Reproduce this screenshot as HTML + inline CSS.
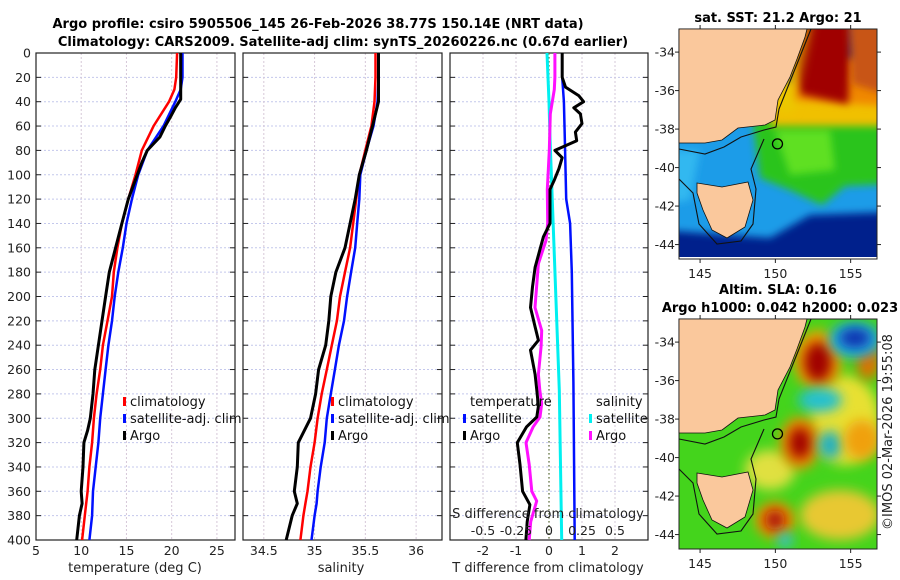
<!DOCTYPE html>
<html><head><meta charset="utf-8"><style>
html,body{margin:0;padding:0;background:#fff;}
svg{display:block;font-family:"DejaVu Sans","Liberation Sans",sans-serif;}
</style></head><body>
<svg id="fig" width="900" height="580" viewBox="0 0 900 580" xmlns="http://www.w3.org/2000/svg">
<defs>
<filter id="blur1" x="-20%" y="-20%" width="140%" height="140%"><feGaussianBlur stdDeviation="4"/></filter>
<filter id="blur2" x="-50%" y="-50%" width="200%" height="200%"><feGaussianBlur stdDeviation="6"/></filter>
<clipPath id="clipM1"><rect x="679" y="29" width="198" height="230"/></clipPath>
<clipPath id="clipM2"><rect x="679" y="319" width="198" height="230"/></clipPath>
</defs>
<text x="318" y="28" text-anchor="middle" font-size="13" font-weight="bold">Argo profile: csiro 5905506_145 26-Feb-2026 38.77S 150.14E (NRT data)</text>
<text x="343" y="46" text-anchor="middle" font-size="13" font-weight="bold">Climatology: CARS2009. Satellite-adj clim: synTS_20260226.nc (0.67d earlier)</text>
<g id="plots"></g>
<g id="maps"></g>
<text transform="translate(892,432) rotate(-90)" text-anchor="middle" font-size="13" fill="#222">©IMOS 02-Mar-2026 19:55:08</text>
</svg>
<script>
// ---- data ----
const depthTicks = [0,20,40,60,80,100,120,140,160,180,200,220,240,260,280,300,320,340,360,380,400];
const tempTicks = [5,10,15,20,25];
const salTicks = [34.5,35,35.5,36];
const salTickLabels = ["34.5","35","35.5","36"];
const tdiffTicks = [-2,-1,0,1,2];
const sdiffTicks = [-0.5,-0.25,0,0.25,0.5];
const sdiffTickLabels = ["-0.5","-0.25","0","0.25","0.5"];

const tArgoDepth = [0,20,38,45,52,60,69,80,90,100,120,140,160,180,200,220,240,260,280,300,310,320,340,360,370,380,400];
const tArgo = [21.0,21.0,21.0,20.4,19.9,19.3,18.7,17.3,16.7,16.2,15.2,14.5,13.8,13.1,12.7,12.3,11.9,11.5,11.3,11.0,10.7,10.3,10.2,10.0,10.1,9.8,9.5];
const tClimDepth = [0,20,30,40,60,80,100,120,140,160,180,200,220,240,260,280,300,320,340,360,380,400];
const tClim = [20.6,20.5,20.3,19.7,18.0,16.7,16.0,15.2,14.5,14.0,13.6,13.4,12.9,12.4,12.1,11.7,11.4,11.2,10.9,10.7,10.4,10.1];
const tSat = [21.2,21.2,21.0,20.4,19.1,17.3,16.3,15.6,15.0,14.6,14.1,13.7,13.4,13.0,12.7,12.4,12.1,11.9,11.6,11.3,11.2,10.9];

const sDepth = [0,20,40,60,80,100,120,140,160,180,200,220,240,260,280,300,320,340,360,370,380,400];
const sArgo = [35.63,35.63,35.63,35.57,35.51,35.44,35.40,35.35,35.30,35.21,35.16,35.14,35.11,35.04,35.01,34.96,34.84,34.83,34.80,34.83,34.78,34.72];
const sClim = [35.60,35.60,35.59,35.56,35.50,35.44,35.41,35.38,35.35,35.30,35.25,35.22,35.17,35.12,35.07,35.03,35.00,34.96,34.93,34.91,34.89,34.86];
const sSat = [35.63,35.63,35.62,35.58,35.51,35.45,35.44,35.42,35.40,35.36,35.32,35.29,35.24,35.20,35.16,35.12,35.10,35.06,35.03,35.02,35.00,34.97];

const tdArgoDepth = [0,20,28,35,40,45,50,58,65,72,80,86,95,105,112,140,151,176,192,209,225,236,244,264,277,290,299,307,320,338,360,371,385,400];
const tdArgo = [0.4,0.4,0.5,0.9,1.05,0.75,0.95,1.0,0.8,0.84,0.18,0.4,0.3,0.15,0.03,0.03,-0.17,-0.42,-0.5,-0.56,-0.42,-0.32,-0.56,-0.42,-0.37,-0.32,-0.37,-0.68,-0.96,-0.88,-0.80,-0.58,-0.66,-0.70];
const tdSatDepth = [0,20,40,70,120,140,180,270,400];
const tdSat = [0.4,0.4,0.45,0.48,0.52,0.64,0.69,0.74,0.78];
const sdArgoDepth = [0,20,30,50,80,112,140,154,173,209,228,241,264,277,288,299,307,320,338,360,368,385,400];
const sdArgo = [0.045,0.045,0.04,0.01,0.002,-0.013,-0.01,-0.023,-0.08,-0.106,-0.055,-0.06,-0.08,-0.07,-0.055,-0.068,-0.12,-0.174,-0.15,-0.13,-0.093,-0.139,-0.15];
const sdSatDepth = [0,40,72,277,400];
const sdSat = [-0.015,0.0,0.008,0.078,0.096];

const lonTicks = [145,150,155];
const latTicks = [-34,-36,-38,-40,-42,-44];
const argoLon = 150.14, argoLat = -38.77;

// ---- helpers ----
const NS = "http://www.w3.org/2000/svg";
function mk(tag, attrs, parent){ const e=document.createElementNS(NS,tag); for(const k in attrs) e.setAttribute(k,attrs[k]); parent.appendChild(e); return e; }
const plots = document.getElementById('plots');
const Y0=53, Y1=540;
const yD = d => Y0 + (d/400)*(Y1-Y0);

function panel(name, x0, x1, vmin, vmax, ticks, labels){
  const g = mk('g',{},plots);
  
  
  const sx = v => x0 + (v-vmin)/(vmax-vmin)*(x1-x0);
  for(const d of depthTicks){
    if(d>0 && d<400){ const l=mk('line',{x1:x0,x2:x1,y1:yD(d),y2:yD(d),stroke:'#c4c8ec','stroke-width':1,'stroke-dasharray':'2,2'},g);
        }
    mk('line',{x1:x0,x2:x0+5,y1:yD(d),y2:yD(d),stroke:'#222'},g);
    mk('line',{x1:x1-5,x2:x1,y1:yD(d),y2:yD(d),stroke:'#222'},g);
  }
  ticks.forEach((t,i)=>{
    const x=sx(t);
    if(x>x0+1 && x<x1-1){ const l=mk('line',{x1:x,x2:x,y1:Y0,y2:Y1,stroke:'#d6c8d8','stroke-width':1,'stroke-dasharray':'2,2'},g);
        }
    const tx=mk('text',{x:x,y:Y1+15,'text-anchor':'middle','font-size':12.5,fill:'#222'},g);
    tx.textContent = labels ? labels[i] : String(t);
    
    
  });
  const fr=mk('rect',{x:x0,y:Y0,width:x1-x0,height:Y1-Y0,fill:'none',stroke:'#222','stroke-width':1.2},g);
  
  
  return {g, sx};
}
function series(p, vals, depths, color, w, name){
  const pts = vals.map((v,i)=>p.sx(v).toFixed(1)+','+yD(depths[i]).toFixed(1)).join(' ');
  const pl = mk('polyline',{points:pts,fill:'none',stroke:color,'stroke-width':w,'stroke-linejoin':'round'},p.g);
  
  
}
function legend(g, x, y, items){
  items.forEach((it,i)=>{
    const yy = y + i*17;
    if(it.color){ mk('rect',{x:x,y:yy-9,width:3,height:9,fill:it.color},g); }
    const t=mk('text',{x:x+7,y:yy,'font-size':13,fill:'#111'},g);
    t.textContent=it.label;
    
    
  });
}

for(const d of depthTicks){
  const t=mk('text',{x:31,y:yD(d)+4.5,'text-anchor':'end','font-size':12.5,fill:'#222'},plots);
  t.textContent=String(d);
  
  
}

const p1 = panel('temperature-panel',36,235,5,27,tempTicks,null);
series(p1,tClim,tClimDepth,'#ff0000',2.5,'temp-climatology-line');
series(p1,tSat,tClimDepth,'#0010ff',2.5,'temp-satellite-line');
series(p1,tArgo,tArgoDepth,'#000',3,'temp-argo-line');
legend(p1.g,123,406,[{color:'#ff0000',label:'climatology'},{color:'#0010ff',label:'satellite-adj. clim'},{color:'#000',label:'Argo'}]);
let xl=mk('text',{x:135,y:572,'text-anchor':'middle','font-size':13,fill:'#222'},plots);
xl.textContent='temperature (deg C)';



const p2 = panel('salinity-panel',243,442,34.295,36.255,salTicks,salTickLabels);
series(p2,sClim,sDepth,'#ff0000',2.5,'sal-climatology-line');
series(p2,sSat,sDepth,'#0010ff',2.5,'sal-satellite-line');
series(p2,sArgo,sDepth,'#000',3,'sal-argo-line');
legend(p2.g,331,406,[{color:'#ff0000',label:'climatology'},{color:'#0010ff',label:'satellite-adj. clim'},{color:'#000',label:'Argo'}]);
xl=mk('text',{x:341,y:572,'text-anchor':'middle','font-size':13,fill:'#222'},plots);
xl.textContent='salinity';



const p3 = panel('difference-panel',450,648,-3,3,tdiffTicks,null);
const p3s = {g:p3.g, sx: v => p3.sx(v*4)};
let zl=mk('line',{x1:p3.sx(0),x2:p3.sx(0),y1:Y0,y2:Y1,stroke:'#556b2f','stroke-width':1.2,'stroke-dasharray':'1.5,2.5'},p3.g);


series(p3s,sdSat,sdSatDepth,'#00f0f0',3,'sdiff-satellite-line');
series(p3,tdSat,tdSatDepth,'#0010ff',2.5,'tdiff-satellite-line');
series(p3s,sdArgo,sdArgoDepth,'#ff10ff',3,'sdiff-argo-line');
series(p3,tdArgo,tdArgoDepth,'#000',3,'tdiff-argo-line');
legend(p3.g,463,406,[{color:null,label:'temperature'},{color:'#0010ff',label:'satellite'},{color:'#000',label:'Argo'}]);
legend(p3.g,589,406,[{color:null,label:'salinity'},{color:'#00f0f0',label:'satellite'},{color:'#ff10ff',label:'Argo'}]);
let st=mk('text',{x:548,y:518,'text-anchor':'middle','font-size':13,fill:'#222'},plots);
st.textContent='S difference from climatology';


sdiffTicks.forEach((t,i)=>{
  const tx=mk('text',{x:p3s.sx(t),y:535,'text-anchor':'middle','font-size':12.5,fill:'#222'},plots);
  tx.textContent=sdiffTickLabels[i];
  
  
});
xl=mk('text',{x:548,y:572,'text-anchor':'middle','font-size':13,fill:'#222'},plots);
xl.textContent='T difference from climatology';



// ---- maps ----
const maps=document.getElementById('maps');
const LON0=143.6, LON1=156.75, LAT0=-32.8, LAT1=-44.75;
function mapAxes(name, top){
  const g=mk('g',{},maps);
  
  
  const x0=679,x1=877,y0=top,y1=top+230;
  const mx = lon => x0+(lon-LON0)/(LON1-LON0)*(x1-x0);
  const my = lat => y0+(lat-LAT0)/(LAT1-LAT0)*(y1-y0);
  return {g,x0,x1,y0,y1,mx,my};
}
function mapFrame(m){
  mk('rect',{x:m.x0,y:m.y0,width:m.x1-m.x0,height:m.y1-m.y0,fill:'none',stroke:'#222','stroke-width':1},m.g);
  lonTicks.forEach(l=>{
    const x=m.mx(l);
    mk('line',{x1:x,x2:x,y1:m.y0-4,y2:m.y0,stroke:'#222'},m.g);
    mk('line',{x1:x,x2:x,y1:m.y1,y2:m.y1+4,stroke:'#222'},m.g);
    const t=mk('text',{x:x,y:m.y1+19,'text-anchor':'middle','font-size':12.5,fill:'#222'},m.g);
    t.textContent=String(l);
    
    
  });
  latTicks.forEach(l=>{
    const y=m.my(l);
    mk('line',{x1:m.x0-4,x2:m.x0,y1:y,y2:y,stroke:'#222'},m.g);
    mk('line',{x1:m.x1,x2:m.x1+4,y1:y,y2:y,stroke:'#222'},m.g);
    const t=mk('text',{x:m.x0-4,y:y+4.5,'text-anchor':'end','font-size':12.5,fill:'#222'},m.g);
    t.textContent=String(l);
    
    
  });
  const c=mk('circle',{cx:m.mx(argoLon),cy:m.my(argoLat),r:5,fill:'none',stroke:'#000','stroke-width':1.3},m.g);
  
  
}
const mainland="0,0 128,0 126,8 118,30 111,48 99,71 96,91 86,96 59,99 43,111 26,114 0,114";
const tasmania="18,154 43,158 69,153 74,171 66,198 48,209 33,201 24,181 18,164";
const contour="0,120 26,125 45,118 62,108 85,101 97,98 100,80 110,55 120,30 132,0";
const contour2="0,150 14,164 20,195 38,215 62,212 74,195 77,160 72,140 85,110";
function land(m){
  const off=(s)=>s.split(' ').map(p=>{const [a,b]=p.split(',').map(Number);return (a+m.x0)+','+(b+m.y0);}).join(' ');
  mk('polyline',{points:off(contour),fill:'none',stroke:'#111','stroke-width':1.1},m.g);
  mk('polyline',{points:off(contour2),fill:'none',stroke:'#111','stroke-width':1.1},m.g);
  const a=mk('polygon',{points:off(mainland),fill:'#fac89c',stroke:'#111','stroke-width':0.8},m.g);
  
  
  const b=mk('polygon',{points:off(tasmania),fill:'#fac89c',stroke:'#111','stroke-width':0.8},m.g);
  
  
}

// Map 1: SST
const m1=mapAxes('sst-map',29);
let t1=mk('text',{x:778,y:22,'text-anchor':'middle','font-size':13,'font-weight':'bold'},maps);
t1.textContent='sat. SST: 21.2 Argo: 21';


{
  const g=mk('g',{'clip-path':'url(#clipM1)'},m1.g);
  const P=(pts,c,f)=>mk('polygon',{points:pts,fill:c,filter:f||'url(#blur1)'},g);
  mk('rect',{x:679,y:29,width:198,height:230,fill:'#00208c'},g);
  P('660,100 775,100 775,172 890,172 890,212 810,215 770,238 660,230','#1a9ce8');
  P('660,150 700,150 690,200 660,205','#30b8f0');
  P('752,116 890,116 890,184 845,186 822,205 790,190 760,178','#2cc41c');
  P('775,130 830,130 835,170 790,175','#5ee020');
  P('770,82 890,82 890,126 770,126','#f0c000');
  P('790,58 890,58 890,106 792,100','#f08800');
  P('802,20 852,20 848,104 800,94 792,50','#a00000');
  P('848,20 890,20 890,96 852,84','#c85412');
  P('800,20 810,20 790,110 780,110','#e8d000','url(#blur2)');
  mk('rect',{x:679,y:257,width:198,height:3,fill:'#fff'},g);
  mapFrame(m1); land(m1);
}
// Map 2: SLA
const m2=mapAxes('sla-map',319);
let t2=mk('text',{x:778,y:294,'text-anchor':'middle','font-size':13,'font-weight':'bold'},maps);
t2.textContent='Altim. SLA: 0.16';


let t3=mk('text',{x:780,y:312,'text-anchor':'middle','font-size':13,'font-weight':'bold'},maps);
t3.textContent='Argo h1000: 0.042 h2000: 0.023';


{
  const g=mk('g',{'clip-path':'url(#clipM2)'},m2.g);
  mk('rect',{x:679,y:319,width:198,height:230,fill:'#44d41c'},g);
  const B=(cx,cy,rx,ry,c)=>mk('ellipse',{cx:cx,cy:cy,rx:rx,ry:ry,fill:c,filter:'url(#blur2)'},g);
  B(845,420,35,45,'#e8e030'); B(770,470,25,20,'#e0e040'); B(840,515,40,25,'#e8c830');
  B(818,360,24,30,'#f0a000'); B(818,362,14,20,'#a00000');
  B(800,443,20,26,'#f09000'); B(800,443,11,16,'#a00000');
  B(775,520,20,18,'#f09000'); B(775,520,10,10,'#a81010');
  B(868,360,12,20,'#e07000');
  B(855,340,26,18,'#20b0e0'); B(855,338,16,10,'#1030b0');
  B(820,400,22,12,'#20c0d0');
  B(830,445,12,14,'#20b0c0');
  B(862,440,18,20,'#f0a010');
  B(785,540,8,8,'#30c0d0');
  mapFrame(m2); land(m2);
}
</script>
</body></html>
